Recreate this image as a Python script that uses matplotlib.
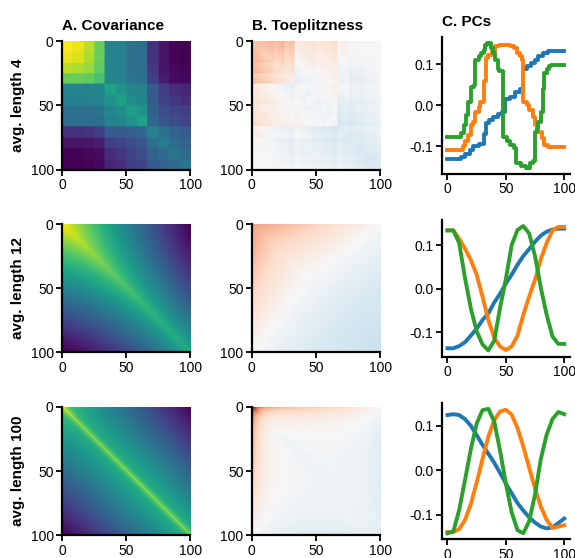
import numpy as np
import matplotlib.pyplot as plt

plt.rcParams['font.family'] = ['Liberation Sans', 'DejaVu Sans']
plt.rcParams['axes.unicode_minus'] = False
plt.rcParams['font.size'] = 10

N = 100
row_labels = ['avg. length 4', 'avg. length 12', 'avg. length 100']
col_titles = ['A. Covariance', 'B. Toeplitzness', 'C. PCs']
pc_colors = ['#1f77b4', '#ff7f0e', '#2ca02c']

# avg. length 4: covariance between segments (upper triangle, row by row)
seg_edges = [0, 8, 17, 25, 33, 42, 50, 58, 66, 75, 83, 92, 100]
cov4_rows = [
    [1.00, 0.97, 0.90, 0.78, 0.46, 0.45, 0.38, 0.37, 0.16, 0.08, 0.03, 0.02],
    [0.95, 0.88, 0.78, 0.46, 0.45, 0.38, 0.37, 0.16, 0.08, 0.03, 0.02],
    [0.85, 0.76, 0.46, 0.45, 0.38, 0.37, 0.17, 0.08, 0.04, 0.03],
    [0.72, 0.47, 0.46, 0.40, 0.38, 0.20, 0.10, 0.05, 0.04],
    [0.58, 0.52, 0.47, 0.45, 0.30, 0.20, 0.15, 0.12],
    [0.58, 0.50, 0.47, 0.30, 0.22, 0.18, 0.15],
    [0.57, 0.52, 0.32, 0.25, 0.22, 0.20],
    [0.58, 0.35, 0.28, 0.25, 0.22],
    [0.45, 0.38, 0.33, 0.30],
    [0.42, 0.37, 0.33],
    [0.40, 0.36],
    [0.40],
]

# avg. length 12 and 100: far part (by max index) + near part (by min index)
# + local ridge, scaled by a per-position sd that is raised at the start
far_scale = [0.95, 0.68]
far_power = [1.08, 0.95]
near_scale = [0.57, 0.66]
near_power = [1.37, 1.05]
ridge_scale = [0.05, 0.2]
ridge_len = [12.0, 2.5]
sd_bump = [0.0, 0.08]
sd_len = [1.0, 6.0]

toep_range = [1.4, 0.6, 0.15]

# PCs, avg. length 4 (step starts, values)
pc4_blue_x = [0, 12, 15, 19, 22, 27, 31, 33, 36, 39, 43, 47, 49, 54, 58, 62,
              65, 68, 72, 75, 78, 82, 86, 100]
pc4_blue_y = [-0.132, -0.126, -0.118, -0.110, -0.098, -0.094, -0.070, -0.042,
              -0.036, -0.028, -0.020, -0.016, 0.016, 0.020, 0.032, 0.040,
              0.088, 0.096, 0.104, 0.112, 0.120, 0.128, 0.134, 0.134]
pc4_orange_x = [0, 13, 15, 18, 20, 22, 24, 27, 28, 31, 33, 35, 38, 41, 44, 54,
                57, 60, 62, 64, 65, 68, 70, 73, 75, 78, 81, 83, 86, 100]
pc4_orange_y = [-0.108, -0.100, -0.088, -0.072, -0.048, -0.040, -0.016, -0.004,
                0.008, 0.060, 0.116, 0.124, 0.132, 0.144, 0.148, 0.144, 0.140,
                0.128, 0.120, 0.112, 0.008, 0.000, -0.012, -0.028, -0.048,
                -0.064, -0.080, -0.096, -0.102, -0.102]
pc4_green_x = [0, 12, 14, 16, 18, 20, 23, 24, 27, 29, 31, 32, 34, 37, 39, 41,
               43, 44, 48, 51, 54, 57, 59, 63, 67, 71, 73, 75, 77, 78, 80, 82,
               83, 85, 87, 89, 100]
pc4_green_y = [-0.076, -0.068, -0.048, -0.024, 0.008, 0.044, 0.050, 0.110,
               0.120, 0.128, 0.136, 0.148, 0.152, 0.140, 0.128, 0.112, 0.090,
               0.084, -0.076, -0.088, -0.096, -0.104, -0.140, -0.148, -0.152,
               -0.140, -0.136, -0.064, -0.056, -0.040, -0.016, 0.040, 0.080,
               0.090, 0.096, 0.098, 0.098]

# PCs, avg. length 12 and 100 (sampled every 5 positions)
pc_x = list(range(0, 101, 5))
pc12_blue = [-0.137, -0.137, -0.132, -0.123, -0.108, -0.092, -0.072, -0.057,
             -0.032, -0.012, 0.012, 0.032, 0.055, 0.075, 0.091, 0.108, 0.122,
             0.131, 0.136, 0.138, 0.138]
pc12_orange = [0.134, 0.134, 0.115, 0.092, 0.066, 0.032, -0.018, -0.072,
               -0.112, -0.133, -0.141, -0.133, -0.108, -0.060, -0.018, 0.020,
               0.068, 0.105, 0.134, 0.142, 0.142]
pc12_green = [0.134, 0.134, 0.105, 0.025, -0.045, -0.098, -0.128, -0.142,
              -0.120, -0.045, 0.022, 0.100, 0.135, 0.144, 0.127, 0.075, 0.002,
              -0.060, -0.110, -0.127, -0.127]
pc100_blue = [0.124, 0.126, 0.124, 0.115, 0.100, 0.079, 0.057, 0.037, 0.017,
              -0.006, -0.030, -0.052, -0.074, -0.091, -0.106, -0.118, -0.127,
              -0.131, -0.129, -0.119, -0.109]
pc100_orange = [-0.139, -0.139, -0.133, -0.112, -0.077, -0.028, 0.025, 0.075,
                0.112, 0.132, 0.136, 0.125, 0.095, 0.053, 0.006, -0.041,
                -0.082, -0.112, -0.130, -0.127, -0.124]
pc100_green = [-0.142, -0.138, -0.090, -0.022, 0.047, 0.105, 0.135, 0.138,
               0.110, 0.045, -0.030, -0.095, -0.135, -0.142, -0.115, -0.055,
               0.025, 0.080, 0.115, 0.131, 0.126]


def block_covariance():
    m = len(cov4_rows)
    table = np.zeros((m, m))
    for i, row in enumerate(cov4_rows):
        table[i, i:] = row
        table[i:, i] = row
    edges = np.array(seg_edges)
    seg = np.searchsorted(edges, np.arange(N), side='right') - 1
    return table[np.ix_(seg, seg)]


def smooth_covariance(k):
    pos = np.arange(N, dtype=float)
    hi = np.maximum.outer(pos, pos) / N
    lo = np.minimum.outer(pos, pos) / N
    d = np.abs(np.subtract.outer(pos, pos))
    far = far_scale[k] * (1 - hi) ** far_power[k]
    near = near_scale[k] * lo ** near_power[k]
    ridge = ridge_scale[k] * np.exp(-d / ridge_len[k])
    sd = 1 + sd_bump[k] * np.exp(-pos / sd_len[k])
    return np.outer(sd, sd) * (far + near + ridge)


def toeplitz_part(c):
    """ Average of c along each diagonal, spread back over that diagonal. """
    t = np.zeros_like(c)
    for k in range(-N + 1, N):
        rows = np.arange(max(0, -k), min(N, N - k))
        t[rows, rows + k] = np.diagonal(c, k).mean()
    return t


covs = [block_covariance(), smooth_covariance(0), smooth_covariance(1)]

pcs = [
    [(pc4_blue_x, pc4_blue_y), (pc4_orange_x, pc4_orange_y),
     (pc4_green_x, pc4_green_y)],
    [(pc_x, pc12_blue), (pc_x, pc12_orange), (pc_x, pc12_green)],
    [(pc_x, pc100_blue), (pc_x, pc100_orange), (pc_x, pc100_green)],
]

fig, axes = plt.subplots(3, 3, figsize=(5.75, 5.58), dpi=100)
fig.subplots_adjust(left=0.1078, right=0.9913, top=0.9337, bottom=0.0332,
                    wspace=0.479, hspace=0.336)

for r in range(3):
    cov = covs[r]
    toep = cov - toeplitz_part(cov)
    vt = toep_range[r] * np.abs(cov).max()

    ax = axes[r, 0]
    ax.imshow(cov, cmap='viridis', extent=(0, 100, 100, 0),
              interpolation='bilinear')
    ax.set_ylabel(row_labels[r], fontsize=11, fontweight='bold')

    ax = axes[r, 1]
    ax.imshow(toep, cmap='RdBu_r', vmin=-vt, vmax=vt,
              extent=(0, 100, 100, 0), interpolation='bilinear')

    ax = axes[r, 2]
    for (x, y), col in zip(pcs[r], pc_colors):
        if r == 0:
            ax.plot(x, y, color=col, lw=2.8, drawstyle='steps-post')
        else:
            ax.plot(x, y, color=col, lw=2.8)
    ax.set_yticks([-0.1, 0.0, 0.1])
    ax.set_yticklabels(['-0.1', '0.0', '0.1'])

    for c in range(3):
        ax = axes[r, c]
        ax.set_xticks([0, 50, 100])
        if c < 2:
            ax.set_yticks([0, 50, 100])
        for side in ('top', 'right'):
            ax.spines[side].set_visible(False)
        for side in ('left', 'bottom'):
            ax.spines[side].set_linewidth(1.6)
        ax.tick_params(width=1.3, length=4, labelsize=10, pad=2)
        if r == 0:
            ax.set_title(col_titles[c], loc='left', fontsize=11,
                         fontweight='bold', pad=8)

fig.savefig('out.png', dpi=100)
